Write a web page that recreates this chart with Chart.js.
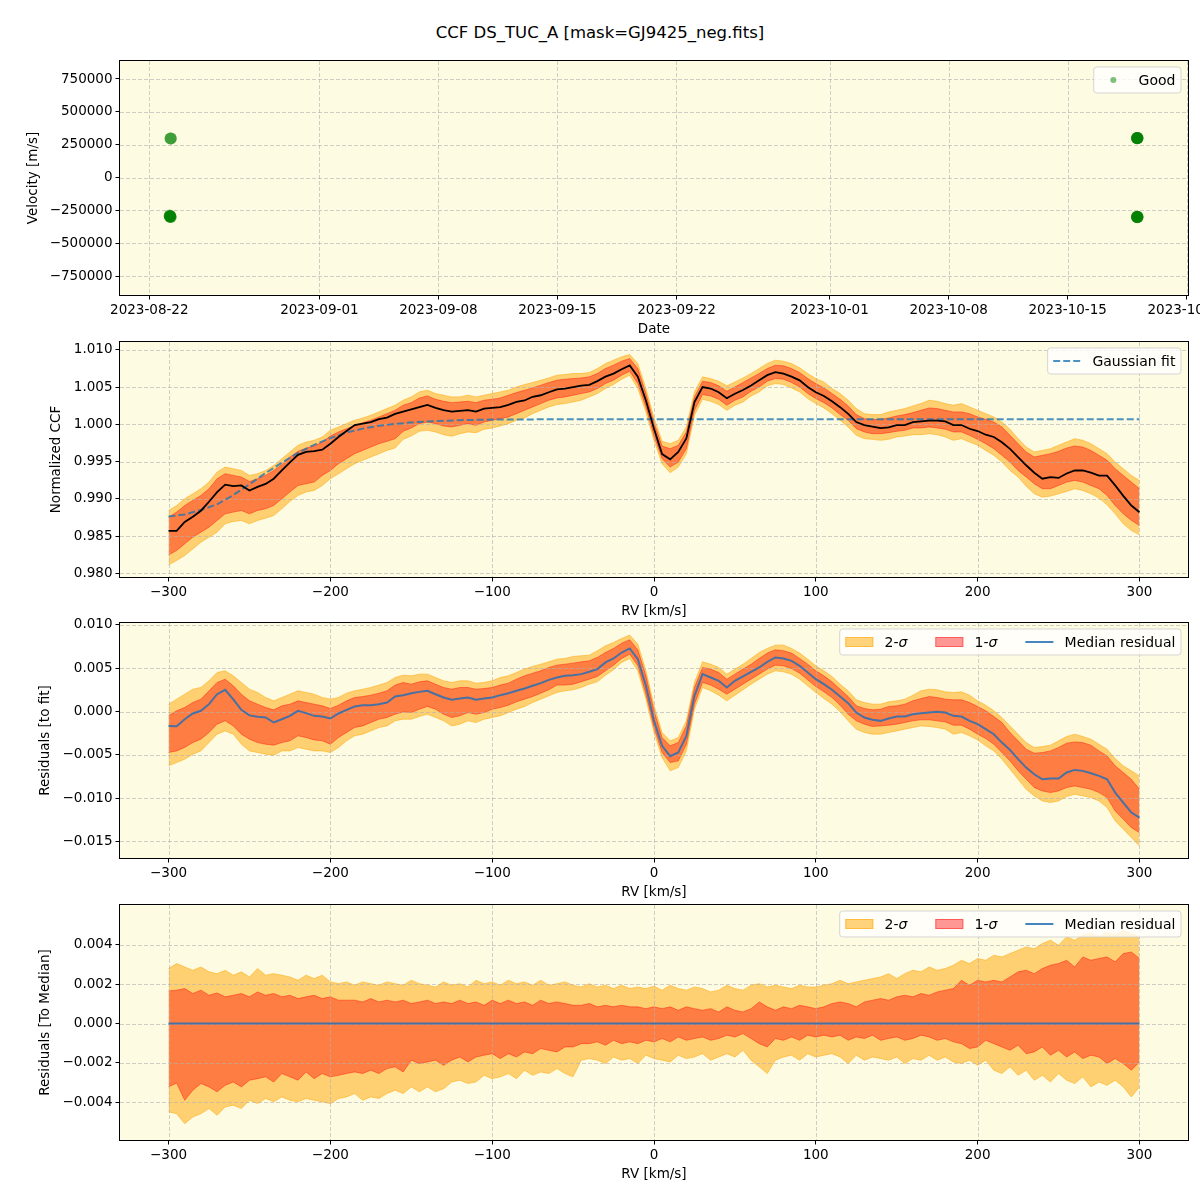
<!DOCTYPE html>
<html>
<head>
<meta charset="utf-8">
<script src="https://cdn.jsdelivr.net/npm/chart.js@4.4.0/dist/chart.umd.min.js"></script>
<style>
  body { margin: 0; background: #fff; }
  #wrap { position: relative; width: 1200px; height: 1200px; background: #fff; font-family: 'DejaVu Sans', sans-serif; }
  #title { position: absolute; top: 23px; left: 0; width: 1200px; text-align: center; font-size: 16.5px; color: #000; }
  canvas { position: absolute; left: 0; }
</style>
</head>
<body>
<div id="wrap">
  <div id="title">CCF DS_TUC_A [mask=GJ9425_neg.fits]</div>
  <canvas id="velocity-chart" width="1200" height="287" style="top:51px"></canvas>
  <canvas id="ccf-chart" width="1200" height="288" style="top:332px"></canvas>
  <canvas id="fit-residual-chart" width="1200" height="288" style="top:613px"></canvas>
  <canvas id="median-residual-chart" width="1200" height="288" style="top:895px"></canvas>
</div>
<script>
// ---- panel 1: velocities per observation
const obsTimes = [
  '2023-08-23T06:00:00Z', '2023-08-23T06:20:00Z',
  '2023-08-23T04:50:00Z', '2023-08-23T05:10:00Z', '2023-08-23T05:30:00Z', '2023-08-23T05:50:00Z',
  '2023-08-23T06:10:00Z', '2023-08-23T05:00:00Z',
  '2023-10-19T01:50:00Z', '2023-10-19T02:00:00Z', '2023-10-19T02:10:00Z', '2023-10-19T02:20:00Z',
  '2023-10-19T02:30:00Z', '2023-10-19T02:40:00Z',
  '2023-10-19T01:50:00Z', '2023-10-19T02:00:00Z', '2023-10-19T02:10:00Z', '2023-10-19T02:20:00Z',
  '2023-10-19T02:30:00Z', '2023-10-19T02:40:00Z'
];
const obsVelocity = [
  297000, 298000,
  -288000, -292000, -296000, -300000, -301000, -294000,
  299000, 301000, 300500, 298500, 300000, 301500,
  -300000, -301000, -299000, -302000, -298500, -300500
];
const dateTicks = ['2023-08-22', '2023-09-01', '2023-09-08', '2023-09-15', '2023-09-22',
  '2023-10-01', '2023-10-08', '2023-10-15', '2023-10-22'];
const dateMin = '2023-08-20T06:40:00Z';
const dateMax = '2023-10-22T01:50:00Z';
const velocityTicks = [-750000, -500000, -250000, 0, 250000, 500000, 750000];

// ---- shared RV grid (km/s)
const rvGrid = [
  -300, -295, -290, -285, -280, -275, -270, -265, -260, -255,
  -250, -245, -240, -235, -230, -225, -220, -215, -210, -205,
  -200, -195, -190, -185, -180, -175, -170, -165, -160, -155,
  -150, -145, -140, -135, -130, -125, -120, -115, -110, -105,
  -100, -95, -90, -85, -80, -75, -70, -65, -60, -55,
  -50, -45, -40, -35, -30, -25, -20, -15, -10, -5,
  0, 5, 10, 15, 20, 25, 30, 35, 40, 45,
  50, 55, 60, 65, 70, 75, 80, 85, 90, 95,
  100, 105, 110, 115, 120, 125, 130, 135, 140, 145,
  150, 155, 160, 165, 170, 175, 180, 185, 190, 195,
  200, 205, 210, 215, 220, 225, 230, 235, 240, 245,
  250, 255, 260, 265, 270, 275, 280, 285, 290, 295,
  300
];
const rvTicks = [-300, -200, -100, 0, 100, 200, 300];

// ---- panel 2: normalized CCF
const ccfMedian = [
  0.9857, 0.9857, 0.9869, 0.9876, 0.9884, 0.9896, 0.9909, 0.9919, 0.9917, 0.9918,
  0.9911, 0.9916, 0.9920, 0.9927, 0.9938, 0.9949, 0.9959, 0.9963, 0.9964, 0.9966,
  0.9974, 0.9983, 0.9991, 0.9999, 1.0001, 1.0003, 1.0007, 1.0009, 1.0014, 1.0017,
  1.0020, 1.0023, 1.0026, 1.0022, 1.0019, 1.0017, 1.0018, 1.0019, 1.0017, 1.0021,
  1.0022, 1.0023, 1.0026, 1.0030, 1.0032, 1.0037, 1.0039, 1.0043, 1.0047, 1.0048,
  1.0050, 1.0052, 1.0053, 1.0058, 1.0064, 1.0068, 1.0074, 1.0079, 1.0064, 1.0032,
  0.9994, 0.9960, 0.9953, 0.9963, 0.9981, 1.0030, 1.0050, 1.0048, 1.0043, 1.0035,
  1.0041, 1.0046, 1.0052, 1.0059, 1.0066, 1.0070, 1.0068, 1.0064, 1.0059, 1.0050,
  1.0043, 1.0038, 1.0031, 1.0023, 1.0014, 1.0003, 0.9999, 0.9997, 0.9995, 0.9996,
  0.9999, 0.9999, 1.0003, 1.0004, 1.0005, 1.0005, 1.0004, 0.9999, 0.9999, 0.9994,
  0.9991, 0.9986, 0.9983, 0.9976, 0.9967, 0.9956, 0.9945, 0.9935, 0.9927, 0.9929,
  0.9928, 0.9934, 0.9938, 0.9938, 0.9935, 0.9931, 0.9931, 0.9918, 0.9904, 0.9891,
  0.9882
];
const ccfHi2 = [
  0.98843, 0.98910, 0.99000, 0.99067, 0.99135, 0.99224, 0.99359, 0.99426, 0.99404, 0.99381,
  0.99314, 0.99336, 0.99381, 0.99448, 0.99538, 0.99628, 0.99718, 0.99762, 0.99785, 0.99830,
  0.99919, 0.99964, 1.00009, 1.00054, 1.00085, 1.00121, 1.00166, 1.00211, 1.00256, 1.00323,
  1.00368, 1.00435, 1.00457, 1.00413, 1.00390, 1.00368, 1.00368, 1.00390, 1.00368, 1.00390,
  1.00413, 1.00435, 1.00457, 1.00502, 1.00534, 1.00561, 1.00592, 1.00623, 1.00659, 1.00668,
  1.00682, 1.00682, 1.00695, 1.00749, 1.00816, 1.00861, 1.00906, 1.00937, 1.00816, 1.00480,
  1.00085, 0.99771, 0.99740, 0.99785, 0.99964, 1.00435, 1.00637, 1.00614, 1.00578, 1.00516,
  1.00569, 1.00623, 1.00682, 1.00749, 1.00816, 1.00861, 1.00847, 1.00816, 1.00758, 1.00682,
  1.00614, 1.00569, 1.00480, 1.00413, 1.00323, 1.00211, 1.00143, 1.00130, 1.00130, 1.00166,
  1.00188, 1.00211, 1.00247, 1.00278, 1.00323, 1.00309, 1.00278, 1.00256, 1.00278, 1.00233,
  1.00188, 1.00143, 1.00099, 1.00031, 0.99933, 0.99807, 0.99695, 0.99628, 0.99650, 0.99673,
  0.99718, 0.99762, 0.99807, 0.99785, 0.99740, 0.99673, 0.99605, 0.99493, 0.99404, 0.99314,
  0.99247
];
const ccfHi1 = [
  0.98753, 0.98821, 0.98910, 0.98978, 0.99045, 0.99135, 0.99269, 0.99336, 0.99314, 0.99292,
  0.99233, 0.99269, 0.99314, 0.99381, 0.99457, 0.99561, 0.99637, 0.99682, 0.99709, 0.99762,
  0.99843, 0.99897, 0.99942, 0.99978, 1.00022, 1.00054, 1.00099, 1.00143, 1.00188, 1.00256,
  1.00291, 1.00354, 1.00381, 1.00336, 1.00309, 1.00291, 1.00300, 1.00309, 1.00291, 1.00323,
  1.00336, 1.00354, 1.00390, 1.00426, 1.00457, 1.00489, 1.00525, 1.00561, 1.00592, 1.00605,
  1.00614, 1.00623, 1.00637, 1.00682, 1.00749, 1.00794, 1.00847, 1.00883, 1.00749, 1.00413,
  1.00022, 0.99709, 0.99673, 0.99718, 0.99897, 1.00368, 1.00578, 1.00561, 1.00516, 1.00444,
  1.00502, 1.00561, 1.00623, 1.00682, 1.00749, 1.00794, 1.00785, 1.00749, 1.00695, 1.00614,
  1.00547, 1.00489, 1.00413, 1.00336, 1.00247, 1.00130, 1.00076, 1.00063, 1.00067, 1.00085,
  1.00112, 1.00130, 1.00157, 1.00188, 1.00220, 1.00211, 1.00188, 1.00166, 1.00166, 1.00143,
  1.00099, 1.00067, 1.00031, 0.99964, 0.99852, 0.99740, 0.99628, 0.99561, 0.99583, 0.99605,
  0.99637, 0.99682, 0.99709, 0.99695, 0.99650, 0.99583, 0.99516, 0.99404, 0.99314, 0.99224,
  0.99135
];
const ccfLo1 = [
  0.98247, 0.98305, 0.98395, 0.98484, 0.98552, 0.98619, 0.98709, 0.98798, 0.98821, 0.98843,
  0.98798, 0.98843, 0.98866, 0.98910, 0.99000, 0.99090, 0.99179, 0.99202, 0.99224, 0.99314,
  0.99381, 0.99471, 0.99538, 0.99605, 0.99650, 0.99695, 0.99740, 0.99771, 0.99807, 0.99906,
  0.99951, 1.00009, 1.00031, 1.00009, 0.99978, 0.99964, 0.99987, 1.00009, 0.99987, 1.00031,
  1.00054, 1.00076, 1.00099, 1.00143, 1.00188, 1.00233, 1.00278, 1.00323, 1.00354, 1.00368,
  1.00390, 1.00413, 1.00435, 1.00480, 1.00547, 1.00592, 1.00659, 1.00713, 1.00547, 1.00233,
  0.99843, 0.99538, 0.99426, 0.99493, 0.99673, 1.00188, 1.00399, 1.00381, 1.00336, 1.00256,
  1.00323, 1.00368, 1.00444, 1.00502, 1.00578, 1.00614, 1.00605, 1.00561, 1.00502, 1.00413,
  1.00345, 1.00291, 1.00220, 1.00130, 1.00054, 0.99942, 0.99897, 0.99874, 0.99874, 0.99888,
  0.99906, 0.99919, 0.99951, 0.99951, 0.99964, 0.99951, 0.99933, 0.99897, 0.99897, 0.99852,
  0.99798, 0.99740, 0.99673, 0.99583, 0.99493, 0.99381, 0.99292, 0.99202, 0.99135, 0.99135,
  0.99179, 0.99224, 0.99247, 0.99224, 0.99179, 0.99135, 0.99045, 0.98910, 0.98798, 0.98709,
  0.98641
];
const ccfLo2 = [
  0.98112, 0.98171, 0.98238, 0.98327, 0.98417, 0.98484, 0.98552, 0.98664, 0.98695, 0.98709,
  0.98664, 0.98709, 0.98740, 0.98776, 0.98866, 0.98964, 0.99045, 0.99090, 0.99112, 0.99179,
  0.99269, 0.99336, 0.99404, 0.99471, 0.99516, 0.99561, 0.99605, 0.99650, 0.99682, 0.99798,
  0.99843, 0.99906, 0.99919, 0.99897, 0.99861, 0.99839, 0.99874, 0.99897, 0.99888, 0.99933,
  0.99951, 0.99978, 1.00009, 1.00054, 1.00085, 1.00143, 1.00188, 1.00233, 1.00265, 1.00278,
  1.00300, 1.00323, 1.00368, 1.00413, 1.00480, 1.00534, 1.00605, 1.00659, 1.00480, 1.00166,
  0.99785, 0.99471, 0.99350, 0.99426, 0.99605, 1.00121, 1.00336, 1.00309, 1.00265, 1.00188,
  1.00256, 1.00300, 1.00381, 1.00435, 1.00516, 1.00547, 1.00534, 1.00489, 1.00435, 1.00345,
  1.00278, 1.00220, 1.00143, 1.00054, 0.99964, 0.99852, 0.99807, 0.99798, 0.99785, 0.99798,
  0.99830, 0.99843, 0.99861, 0.99861, 0.99874, 0.99861, 0.99830, 0.99785, 0.99807, 0.99762,
  0.99718, 0.99650, 0.99583, 0.99493, 0.99381, 0.99292, 0.99170, 0.99067, 0.99022, 0.99036,
  0.99067, 0.99099, 0.99135, 0.99112, 0.99067, 0.99009, 0.98919, 0.98798, 0.98664, 0.98574,
  0.98516
];
const fitRv = [-300, -290, -280, -270, -260, -250, -240, -230, -220, -210, -200, -190, -180,
  -170, -160, -150, -140, -130, -120, -110, -100, -80, -50, 300];
const fitCcf = [0.98762, 0.98790, 0.98850, 0.98925, 0.99050, 0.99195, 0.99345, 0.99485, 0.99615,
  0.99725, 0.99815, 0.99890, 0.99942, 0.99980, 1.00005, 1.00025, 1.00038, 1.00048, 1.00055,
  1.00060, 1.00063, 1.00066, 1.00067, 1.00067];
const ccfTicks = [0.980, 0.985, 0.990, 0.995, 1.000, 1.005, 1.010];

// ---- panel 3: residuals to the fit
const fitResMedian = [
  -0.00166, -0.00170, -0.00089, -0.00023, 0.00008, 0.00085, 0.00200, 0.00251, 0.00140, 0.00020,
  -0.00045, -0.00060, -0.00069, -0.00127, -0.00089, -0.00050, 0.00008, -0.00019, -0.00050, -0.00058,
  -0.00081, -0.00023, 0.00019, 0.00058, 0.00073, 0.00073, 0.00085, 0.00104, 0.00173, 0.00189,
  0.00212, 0.00227, 0.00239, 0.00200, 0.00162, 0.00135, 0.00150, 0.00162, 0.00135, 0.00150,
  0.00162, 0.00189, 0.00212, 0.00239, 0.00266, 0.00297, 0.00328, 0.00366, 0.00393, 0.00412,
  0.00420, 0.00432, 0.00459, 0.00490, 0.00567, 0.00613, 0.00682, 0.00729, 0.00605, 0.00297,
  -0.00108, -0.00397, -0.00516, -0.00474, -0.00281, 0.00181, 0.00432, 0.00393, 0.00355, 0.00278,
  0.00355, 0.00405, 0.00459, 0.00509, 0.00574, 0.00625, 0.00613, 0.00586, 0.00528, 0.00451,
  0.00374, 0.00316, 0.00251, 0.00173, 0.00096, -0.00012, -0.00069, -0.00096, -0.00108, -0.00081,
  -0.00058, -0.00058, -0.00031, -0.00019, -0.00012, -0.00004, -0.00012, -0.00050, -0.00058, -0.00108,
  -0.00146, -0.00204, -0.00262, -0.00359, -0.00443, -0.00551, -0.00648, -0.00725, -0.00783, -0.00775,
  -0.00775, -0.00705, -0.00675, -0.00686, -0.00713, -0.00744, -0.00783, -0.00937, -0.01052, -0.01168,
  -0.01226
];
const fitResHi2 = [
  0.00085, 0.00143, 0.00200, 0.00258, 0.00278, 0.00355, 0.00451, 0.00470, 0.00412, 0.00335,
  0.00258, 0.00220, 0.00162, 0.00123, 0.00162, 0.00200, 0.00239, 0.00220, 0.00200, 0.00162,
  0.00143, 0.00162, 0.00212, 0.00239, 0.00258, 0.00278, 0.00305, 0.00335, 0.00393, 0.00420,
  0.00412, 0.00432, 0.00432, 0.00393, 0.00355, 0.00335, 0.00355, 0.00355, 0.00328, 0.00335,
  0.00355, 0.00393, 0.00412, 0.00451, 0.00490, 0.00520, 0.00547, 0.00574, 0.00605, 0.00613,
  0.00636, 0.00644, 0.00651, 0.00702, 0.00759, 0.00798, 0.00844, 0.00883, 0.00779, 0.00470,
  0.00073, -0.00243, -0.00339, -0.00301, -0.00108, 0.00335, 0.00574, 0.00547, 0.00509, 0.00432,
  0.00490, 0.00547, 0.00613, 0.00682, 0.00729, 0.00767, 0.00767, 0.00729, 0.00675, 0.00605,
  0.00528, 0.00470, 0.00405, 0.00316, 0.00239, 0.00135, 0.00104, 0.00085, 0.00085, 0.00112,
  0.00123, 0.00143, 0.00189, 0.00239, 0.00258, 0.00251, 0.00227, 0.00220, 0.00227, 0.00189,
  0.00123, 0.00073, 0.00008, -0.00069, -0.00166, -0.00262, -0.00359, -0.00416, -0.00405, -0.00389,
  -0.00339, -0.00289, -0.00262, -0.00289, -0.00320, -0.00378, -0.00436, -0.00544, -0.00628, -0.00686,
  -0.00744
];
const fitResHi1 = [
  -0.00050, 0.00008, 0.00046, 0.00104, 0.00143, 0.00239, 0.00335, 0.00374, 0.00297, 0.00200,
  0.00123, 0.00085, 0.00046, 0.00019, 0.00066, 0.00085, 0.00123, 0.00104, 0.00085, 0.00066,
  0.00035, 0.00073, 0.00123, 0.00162, 0.00173, 0.00189, 0.00212, 0.00239, 0.00305, 0.00335,
  0.00316, 0.00343, 0.00355, 0.00316, 0.00278, 0.00258, 0.00278, 0.00278, 0.00258, 0.00266,
  0.00278, 0.00305, 0.00328, 0.00374, 0.00412, 0.00443, 0.00470, 0.00509, 0.00536, 0.00547,
  0.00559, 0.00574, 0.00586, 0.00625, 0.00682, 0.00729, 0.00790, 0.00829, 0.00713, 0.00412,
  0.00008, -0.00301, -0.00397, -0.00359, -0.00166, 0.00278, 0.00509, 0.00490, 0.00451, 0.00374,
  0.00432, 0.00490, 0.00547, 0.00613, 0.00675, 0.00713, 0.00702, 0.00675, 0.00613, 0.00547,
  0.00470, 0.00412, 0.00343, 0.00258, 0.00173, 0.00066, 0.00035, 0.00019, 0.00027, 0.00058,
  0.00066, 0.00085, 0.00123, 0.00150, 0.00173, 0.00162, 0.00143, 0.00135, 0.00135, 0.00104,
  0.00058, 0.00008, -0.00058, -0.00127, -0.00243, -0.00339, -0.00436, -0.00482, -0.00474, -0.00455,
  -0.00416, -0.00366, -0.00351, -0.00359, -0.00389, -0.00455, -0.00513, -0.00628, -0.00705, -0.00783,
  -0.00898
];
const fitResLo1 = [
  -0.00474, -0.00455, -0.00416, -0.00359, -0.00320, -0.00243, -0.00146, -0.00108, -0.00166, -0.00262,
  -0.00320, -0.00359, -0.00378, -0.00389, -0.00359, -0.00339, -0.00281, -0.00301, -0.00328, -0.00339,
  -0.00378, -0.00301, -0.00243, -0.00185, -0.00166, -0.00127, -0.00089, -0.00069, -0.00031, -0.00004,
  -0.00012, 0.00027, 0.00058, 0.00027, -0.00031, -0.00069, -0.00050, -0.00012, -0.00031, -0.00012,
  0.00027, 0.00046, 0.00073, 0.00112, 0.00143, 0.00173, 0.00212, 0.00251, 0.00305, 0.00305,
  0.00316, 0.00343, 0.00374, 0.00405, 0.00470, 0.00536, 0.00613, 0.00663, 0.00528, 0.00200,
  -0.00185, -0.00474, -0.00590, -0.00571, -0.00378, 0.00085, 0.00335, 0.00305, 0.00258, 0.00200,
  0.00258, 0.00316, 0.00374, 0.00432, 0.00490, 0.00536, 0.00528, 0.00497, 0.00443, 0.00366,
  0.00289, 0.00227, 0.00162, 0.00073, -0.00031, -0.00108, -0.00146, -0.00173, -0.00166, -0.00158,
  -0.00146, -0.00127, -0.00108, -0.00096, -0.00096, -0.00108, -0.00120, -0.00158, -0.00158, -0.00204,
  -0.00262, -0.00312, -0.00378, -0.00474, -0.00571, -0.00686, -0.00783, -0.00879, -0.00918, -0.00937,
  -0.00918, -0.00879, -0.00860, -0.00879, -0.00898, -0.00937, -0.00995, -0.01149, -0.01245, -0.01342,
  -0.01399
];
const fitResLo2 = [
  -0.00628, -0.00590, -0.00551, -0.00493, -0.00455, -0.00359, -0.00262, -0.00224, -0.00262, -0.00378,
  -0.00455, -0.00474, -0.00493, -0.00505, -0.00455, -0.00455, -0.00416, -0.00436, -0.00455, -0.00455,
  -0.00474, -0.00416, -0.00339, -0.00281, -0.00262, -0.00224, -0.00185, -0.00166, -0.00108, -0.00089,
  -0.00089, -0.00058, -0.00031, -0.00069, -0.00108, -0.00166, -0.00146, -0.00108, -0.00127, -0.00089,
  -0.00069, -0.00050, -0.00012, 0.00027, 0.00058, 0.00104, 0.00143, 0.00181, 0.00220, 0.00239,
  0.00251, 0.00278, 0.00316, 0.00343, 0.00420, 0.00482, 0.00567, 0.00613, 0.00470, 0.00143,
  -0.00243, -0.00532, -0.00686, -0.00648, -0.00455, 0.00027, 0.00278, 0.00239, 0.00189, 0.00123,
  0.00189, 0.00251, 0.00316, 0.00374, 0.00432, 0.00470, 0.00459, 0.00432, 0.00374, 0.00297,
  0.00220, 0.00150, 0.00085, -0.00004, -0.00108, -0.00204, -0.00243, -0.00262, -0.00262, -0.00243,
  -0.00224, -0.00204, -0.00185, -0.00166, -0.00173, -0.00185, -0.00204, -0.00262, -0.00243, -0.00281,
  -0.00328, -0.00397, -0.00455, -0.00551, -0.00667, -0.00783, -0.00898, -0.00975, -0.01033, -0.01052,
  -0.01033, -0.00983, -0.00956, -0.00975, -0.00995, -0.01033, -0.01110, -0.01264, -0.01361, -0.01457,
  -0.01554
];
const fitResTicks = [-0.015, -0.010, -0.005, 0.000, 0.005, 0.010];

// ---- panel 4: residuals to the median
const medResRv = [-300, 300];
const medResMedian = [0, 0];
const medResHi2 = [
  0.00280, 0.00305, 0.00288, 0.00271, 0.00288, 0.00263, 0.00254, 0.00271, 0.00246, 0.00263,
  0.00237, 0.00280, 0.00246, 0.00254, 0.00246, 0.00237, 0.00220, 0.00246, 0.00229, 0.00246,
  0.00212, 0.00203, 0.00212, 0.00195, 0.00212, 0.00203, 0.00195, 0.00212, 0.00203, 0.00195,
  0.00220, 0.00203, 0.00195, 0.00186, 0.00212, 0.00195, 0.00203, 0.00186, 0.00220, 0.00203,
  0.00212, 0.00195, 0.00220, 0.00203, 0.00212, 0.00195, 0.00220, 0.00195, 0.00203, 0.00212,
  0.00195, 0.00186, 0.00203, 0.00186, 0.00195, 0.00178, 0.00195, 0.00178, 0.00186, 0.00178,
  0.00190, 0.00170, 0.00195, 0.00178, 0.00170, 0.00186, 0.00178, 0.00161, 0.00170, 0.00195,
  0.00178, 0.00170, 0.00195, 0.00203, 0.00186, 0.00195, 0.00186, 0.00178, 0.00195, 0.00186,
  0.00186, 0.00195, 0.00203, 0.00220, 0.00203, 0.00212, 0.00220, 0.00229, 0.00237, 0.00254,
  0.00229, 0.00254, 0.00271, 0.00263, 0.00288, 0.00271, 0.00280, 0.00297, 0.00322, 0.00305,
  0.00331, 0.00322, 0.00347, 0.00339, 0.00356, 0.00373, 0.00390, 0.00381, 0.00407, 0.00424,
  0.00398, 0.00441, 0.00424, 0.00449, 0.00458, 0.00441, 0.00466, 0.00449, 0.00475, 0.00458,
  0.00441
];
const medResHi1 = [
  0.00166, 0.00170, 0.00178, 0.00153, 0.00170, 0.00144, 0.00156, 0.00136, 0.00144, 0.00153,
  0.00136, 0.00161, 0.00144, 0.00153, 0.00136, 0.00144, 0.00127, 0.00136, 0.00144, 0.00127,
  0.00136, 0.00119, 0.00119, 0.00119, 0.00110, 0.00127, 0.00110, 0.00119, 0.00110, 0.00119,
  0.00102, 0.00110, 0.00119, 0.00102, 0.00110, 0.00102, 0.00119, 0.00102, 0.00110, 0.00093,
  0.00119, 0.00102, 0.00119, 0.00102, 0.00110, 0.00093, 0.00119, 0.00102, 0.00110, 0.00102,
  0.00093, 0.00093, 0.00102, 0.00085, 0.00093, 0.00085, 0.00093, 0.00085, 0.00085, 0.00076,
  0.00085, 0.00076, 0.00085, 0.00068, 0.00085, 0.00076, 0.00068, 0.00076, 0.00059, 0.00085,
  0.00068, 0.00059, 0.00076, 0.00110, 0.00085, 0.00068, 0.00085, 0.00076, 0.00093, 0.00085,
  0.00076, 0.00085, 0.00102, 0.00110, 0.00102, 0.00085, 0.00110, 0.00119, 0.00127, 0.00119,
  0.00136, 0.00144, 0.00136, 0.00153, 0.00144, 0.00161, 0.00170, 0.00178, 0.00220, 0.00195,
  0.00220, 0.00212, 0.00220, 0.00212, 0.00237, 0.00263, 0.00271, 0.00254, 0.00280, 0.00297,
  0.00305, 0.00322, 0.00288, 0.00339, 0.00322, 0.00331, 0.00339, 0.00314, 0.00356, 0.00364,
  0.00331
];
const medResLo1 = [
  -0.00322, -0.00302, -0.00390, -0.00339, -0.00305, -0.00322, -0.00347, -0.00314, -0.00297, -0.00322,
  -0.00288, -0.00280, -0.00271, -0.00297, -0.00254, -0.00271, -0.00288, -0.00246, -0.00280, -0.00254,
  -0.00271, -0.00263, -0.00254, -0.00246, -0.00254, -0.00237, -0.00254, -0.00229, -0.00220, -0.00246,
  -0.00186, -0.00203, -0.00195, -0.00186, -0.00212, -0.00186, -0.00170, -0.00195, -0.00170, -0.00161,
  -0.00153, -0.00178, -0.00153, -0.00170, -0.00144, -0.00153, -0.00127, -0.00136, -0.00144, -0.00119,
  -0.00119, -0.00102, -0.00102, -0.00093, -0.00110, -0.00085, -0.00102, -0.00093, -0.00102, -0.00085,
  -0.00093, -0.00076, -0.00093, -0.00068, -0.00085, -0.00076, -0.00068, -0.00085, -0.00076, -0.00059,
  -0.00068, -0.00051, -0.00076, -0.00102, -0.00119, -0.00076, -0.00085, -0.00068, -0.00085, -0.00059,
  -0.00068, -0.00059, -0.00068, -0.00059, -0.00085, -0.00068, -0.00076, -0.00059, -0.00085, -0.00076,
  -0.00068, -0.00085, -0.00076, -0.00059, -0.00068, -0.00085, -0.00076, -0.00093, -0.00102, -0.00127,
  -0.00119, -0.00085, -0.00102, -0.00119, -0.00136, -0.00110, -0.00153, -0.00144, -0.00119, -0.00161,
  -0.00136, -0.00170, -0.00144, -0.00178, -0.00161, -0.00170, -0.00203, -0.00178, -0.00203, -0.00237,
  -0.00195
];
const medResLo2 = [
  -0.00449, -0.00458, -0.00509, -0.00475, -0.00458, -0.00432, -0.00466, -0.00424, -0.00415, -0.00432,
  -0.00390, -0.00407, -0.00381, -0.00398, -0.00373, -0.00390, -0.00398, -0.00381, -0.00390, -0.00398,
  -0.00407, -0.00381, -0.00373, -0.00356, -0.00390, -0.00373, -0.00381, -0.00356, -0.00339, -0.00356,
  -0.00322, -0.00347, -0.00322, -0.00347, -0.00331, -0.00297, -0.00288, -0.00305, -0.00297, -0.00263,
  -0.00280, -0.00271, -0.00254, -0.00280, -0.00237, -0.00263, -0.00246, -0.00254, -0.00229, -0.00254,
  -0.00271, -0.00186, -0.00178, -0.00186, -0.00203, -0.00170, -0.00186, -0.00178, -0.00203, -0.00161,
  -0.00178, -0.00186, -0.00195, -0.00161, -0.00178, -0.00170, -0.00153, -0.00186, -0.00170, -0.00153,
  -0.00170, -0.00136, -0.00186, -0.00220, -0.00254, -0.00186, -0.00170, -0.00161, -0.00186, -0.00153,
  -0.00170, -0.00161, -0.00153, -0.00170, -0.00203, -0.00161, -0.00186, -0.00170, -0.00178, -0.00186,
  -0.00170, -0.00203, -0.00178, -0.00186, -0.00161, -0.00186, -0.00170, -0.00195, -0.00203, -0.00186,
  -0.00212, -0.00186, -0.00237, -0.00254, -0.00220, -0.00263, -0.00237, -0.00288, -0.00263, -0.00297,
  -0.00254, -0.00288, -0.00305, -0.00271, -0.00322, -0.00297, -0.00314, -0.00288, -0.00322, -0.00373,
  -0.00322
];
const medResTicks = [-0.004, -0.002, 0.000, 0.002, 0.004];

// ---- styling
Chart.defaults.font.family = "'DejaVu Sans', sans-serif";
Chart.defaults.font.size = 13.5;
Chart.defaults.color = '#000';

const plotBg = '#fdfbe2';
const gridColor = 'rgba(176,176,176,0.6)';
const twoSigmaColor = 'rgba(255,165,0,0.5)';
const oneSigmaColor = 'rgba(255,0,0,0.4)';
const medianBlue = 'rgba(40,110,180,0.85)';
const fitBlue = 'rgba(31,119,180,0.8)';
const goodGreen = 'rgba(0,128,0,0.5)';

function toPoints(xs, ys) {
  return xs.map((x, i) => ({ x: x, y: ys[i] }));
}

function signed(v, digits) {
  const s = Math.abs(v).toFixed(digits);
  return v < -1e-12 ? '\u2212' + s : s;
}

function drawGrid(chart) {
  const { ctx, chartArea: a, scales } = chart;
  ctx.save();
  ctx.strokeStyle = gridColor;
  ctx.lineWidth = 1;
  ctx.setLineDash([4, 2]);
  scales.x.ticks.forEach((t) => {
    const px = Math.round(scales.x.getPixelForValue(t.value)) + 0.5;
    ctx.beginPath();
    ctx.moveTo(px, a.top);
    ctx.lineTo(px, a.bottom);
    ctx.stroke();
  });
  scales.y.ticks.forEach((t) => {
    const py = Math.round(scales.y.getPixelForValue(t.value)) + 0.5;
    ctx.beginPath();
    ctx.moveTo(a.left, py);
    ctx.lineTo(a.right, py);
    ctx.stroke();
  });
  ctx.restore();
}

function roundBox(ctx, x, y, w, h, r) {
  ctx.beginPath();
  ctx.moveTo(x + r, y);
  ctx.lineTo(x + w - r, y);
  ctx.arcTo(x + w, y, x + w, y + r, r);
  ctx.lineTo(x + w, y + h - r);
  ctx.arcTo(x + w, y + h, x + w - r, y + h, r);
  ctx.lineTo(x + r, y + h);
  ctx.arcTo(x, y + h, x, y + h - r, r);
  ctx.lineTo(x, y + r);
  ctx.arcTo(x, y, x + r, y, r);
  ctx.closePath();
}

// legend box in the upper right corner of the plot, matplotlib style
function drawLegend(chart, items) {
  if (!items) return;
  const { ctx, chartArea: a } = chart;
  const pad = 5.6, handleW = 28, textPad = 11.2, colGap = 28, boxH = 26;
  const normal = "14px 'DejaVu Sans'";
  const italic = "italic 14px 'DejaVu Sans'";
  ctx.save();
  const widths = items.map((it) => {
    ctx.font = normal;
    let w = ctx.measureText(it.label).width;
    if (it.sigma) {
      ctx.font = italic;
      w += ctx.measureText('\u03c3').width;
    }
    return w;
  });
  let boxW = 2 * pad + colGap * (items.length - 1);
  widths.forEach((w) => { boxW += handleW + textPad + w; });
  const x0 = a.right - 7 - boxW;
  const y0 = a.top + 6;
  roundBox(ctx, x0, y0, boxW, boxH, 3);
  ctx.fillStyle = 'rgba(255,255,255,0.8)';
  ctx.fill();
  ctx.strokeStyle = 'rgba(204,204,204,0.8)';
  ctx.lineWidth = 1;
  ctx.stroke();

  const cy = y0 + boxH / 2;
  let x = x0 + pad;
  items.forEach((it, i) => {
    if (it.kind === 'patch') {
      ctx.fillStyle = it.color;
      ctx.fillRect(x, cy - 5, handleW, 10);
      ctx.strokeStyle = it.color;
      ctx.strokeRect(x + 0.5, cy - 4.5, handleW - 1, 9);
    } else if (it.kind === 'dot') {
      ctx.fillStyle = it.color;
      ctx.beginPath();
      ctx.arc(x + handleW / 2, cy, 3, 0, Math.PI * 2);
      ctx.fill();
    } else {
      ctx.strokeStyle = it.color;
      ctx.lineWidth = 2;
      ctx.setLineDash(it.dash || []);
      ctx.beginPath();
      ctx.moveTo(x, cy);
      ctx.lineTo(x + handleW, cy);
      ctx.stroke();
      ctx.setLineDash([]);
    }
    ctx.fillStyle = '#000';
    ctx.textBaseline = 'middle';
    ctx.textAlign = 'left';
    ctx.font = normal;
    const tx = x + handleW + textPad;
    ctx.fillText(it.label, tx, cy + 1);
    if (it.sigma) {
      const lw = ctx.measureText(it.label).width;
      ctx.font = italic;
      ctx.fillText('\u03c3', tx + lw, cy + 1);
    }
    x += handleW + textPad + widths[i] + colGap;
  });
  ctx.restore();
}

const panelDeco = {
  id: 'panelDeco',
  beforeDraw(chart) {
    const { ctx, chartArea: a } = chart;
    ctx.save();
    ctx.fillStyle = plotBg;
    ctx.fillRect(a.left, a.top, a.right - a.left, a.bottom - a.top);
    ctx.restore();
  },
  beforeDatasetsDraw(chart) {
    if (!chart.data.datasets.some((d) => d.gridAfter)) drawGrid(chart);
  },
  afterDatasetDraw(chart, args) {
    if (chart.data.datasets[args.index].gridAfter) drawGrid(chart);
  },
  afterDraw(chart, args, opts) {
    const { ctx, chartArea: a } = chart;
    ctx.save();
    ctx.strokeStyle = '#000';
    ctx.lineWidth = 1;
    ctx.strokeRect(Math.round(a.left) - 0.5, Math.round(a.top) - 0.5,
      Math.round(a.right - a.left) + 1, Math.round(a.bottom - a.top) + 1);
    ctx.restore();
    drawLegend(chart, opts.legend);
  }
};

function makeScales(cfg) {
  return {
    x: {
      type: 'linear',
      min: cfg.xMin,
      max: cfg.xMax,
      afterBuildTicks: (s) => { s.ticks = cfg.xTicks.map((v) => ({ value: v })); },
      afterFit: (s) => { s.height = 43; s.paddingLeft = 0; s.paddingRight = 0; },
      ticks: { callback: cfg.xLabel, autoSkip: false, maxRotation: 0, minRotation: 0, padding: 3 },
      grid: { drawOnChartArea: false, drawTicks: true, tickLength: 4.5, tickColor: '#000', tickWidth: 1 },
      border: { display: false },
      title: { display: true, text: cfg.xTitle, padding: { top: 0, bottom: 0 } }
    },
    y: {
      type: 'linear',
      min: cfg.yMin,
      max: cfg.yMax,
      afterBuildTicks: (s) => { s.ticks = cfg.yTicks.map((v) => ({ value: v })); },
      afterFit: (s) => { s.width = 120; s.paddingTop = 0; s.paddingBottom = 0; },
      ticks: { callback: cfg.yLabel, autoSkip: false, padding: 3 },
      grid: { drawOnChartArea: false, drawTicks: true, tickLength: 4.5, tickColor: '#000', tickWidth: 1 },
      border: { display: false },
      title: { display: true, text: cfg.yTitle, padding: { top: cfg.yTitlePad, bottom: 0 } }
    }
  };
}

function baseOptions(scales, legendItems) {
  return {
    responsive: false,
    animation: false,
    devicePixelRatio: 1,
    layout: { padding: { left: 0, right: 12, top: 10, bottom: 0 }, autoPadding: false },
    elements: { point: { radius: 0 }, line: { tension: 0 } },
    plugins: {
      legend: { display: false },
      tooltip: { enabled: false },
      panelDeco: { legend: legendItems }
    },
    scales: scales
  };
}

function bandDatasets(xs, hi2, lo2, hi1, lo1) {
  return [
    { data: toPoints(xs, hi2), fill: 1, backgroundColor: twoSigmaColor, borderColor: twoSigmaColor, borderWidth: 1, order: 5 },
    { data: toPoints(xs, lo2), fill: false, borderColor: twoSigmaColor, borderWidth: 1, order: 4 },
    { data: toPoints(xs, hi1), fill: 3, backgroundColor: oneSigmaColor, borderColor: oneSigmaColor, borderWidth: 1, order: 3 },
    { data: toPoints(xs, lo1), fill: false, borderColor: oneSigmaColor, borderWidth: 1, order: 2, gridAfter: true }
  ];
}

const rvLabel = (v) => signed(v, 0);
const sigmaLegend = [
  { kind: 'patch', color: twoSigmaColor, label: '2-', sigma: true },
  { kind: 'patch', color: oneSigmaColor, label: '1-', sigma: true },
  { kind: 'line', color: medianBlue, label: 'Median residual' }
];

// ---- panel 1
const dayTickValues = dateTicks.map((d) => Date.parse(d + 'T00:00:00Z'));
new Chart(document.getElementById('velocity-chart'), {
  type: 'scatter',
  data: {
    datasets: [{
      data: obsTimes.map((t, i) => ({ x: Date.parse(t), y: obsVelocity[i] })),
      backgroundColor: goodGreen,
      borderWidth: 0,
      pointRadius: 6
    }]
  },
  options: baseOptions(makeScales({
    xMin: Date.parse(dateMin), xMax: Date.parse(dateMax), xTicks: dayTickValues,
    xLabel: (v) => dateTicks[dayTickValues.indexOf(v)], xTitle: 'Date',
    yMin: -894000, yMax: 887000, yTicks: velocityTicks,
    yLabel: (v) => signed(v, 0), yTitle: 'Velocity [m/s]', yTitlePad: 25
  }), [{ kind: 'dot', color: goodGreen, label: 'Good' }]),
  plugins: [panelDeco]
});

// ---- panel 2
new Chart(document.getElementById('ccf-chart'), {
  type: 'line',
  data: {
    datasets: bandDatasets(rvGrid, ccfHi2, ccfLo2, ccfHi1, ccfLo1).concat([
      { data: toPoints(fitRv, fitCcf), borderColor: fitBlue, borderWidth: 2, borderDash: [7, 3], fill: false, order: 1 },
      { data: toPoints(rvGrid, ccfMedian), borderColor: '#000', borderWidth: 1.8, fill: false, order: 0 }
    ])
  },
  options: baseOptions(makeScales({
    xMin: -330, xMax: 330, xTicks: rvTicks, xLabel: rvLabel, xTitle: 'RV [km/s]',
    yMin: 0.9795, yMax: 1.01105, yTicks: ccfTicks,
    yLabel: (v) => v.toFixed(3), yTitle: 'Normalized CCF', yTitlePad: 48.5
  }), [{ kind: 'line', color: fitBlue, dash: [7, 3], label: 'Gaussian fit' }]),
  plugins: [panelDeco]
});

// ---- panel 3
new Chart(document.getElementById('fit-residual-chart'), {
  type: 'line',
  data: {
    datasets: bandDatasets(rvGrid, fitResHi2, fitResLo2, fitResHi1, fitResLo1).concat([
      { data: toPoints(rvGrid, fitResMedian), borderColor: medianBlue, borderWidth: 2, fill: false, order: 0 }
    ])
  },
  options: baseOptions(makeScales({
    xMin: -330, xMax: 330, xTicks: rvTicks, xLabel: rvLabel, xTitle: 'RV [km/s]',
    yMin: -0.01693, yMax: 0.01023, yTicks: fitResTicks,
    yLabel: (v) => signed(v, 3), yTitle: 'Residuals [to fit]', yTitlePad: 37.5
  }), sigmaLegend),
  plugins: [panelDeco]
});

// ---- panel 4
new Chart(document.getElementById('median-residual-chart'), {
  type: 'line',
  data: {
    datasets: bandDatasets(rvGrid, medResHi2, medResLo2, medResHi1, medResLo1).concat([
      { data: toPoints(medResRv, medResMedian), borderColor: medianBlue, borderWidth: 2, fill: false, order: 0 }
    ])
  },
  options: baseOptions(makeScales({
    xMin: -330, xMax: 330, xTicks: rvTicks, xLabel: rvLabel, xTitle: 'RV [km/s]',
    yMin: -0.00592, yMax: 0.00603, yTicks: medResTicks,
    yLabel: (v) => signed(v, 3), yTitle: 'Residuals [To Median]', yTitlePad: 37.5
  }), sigmaLegend),
  plugins: [panelDeco]
});
</script>
</body>
</html>
